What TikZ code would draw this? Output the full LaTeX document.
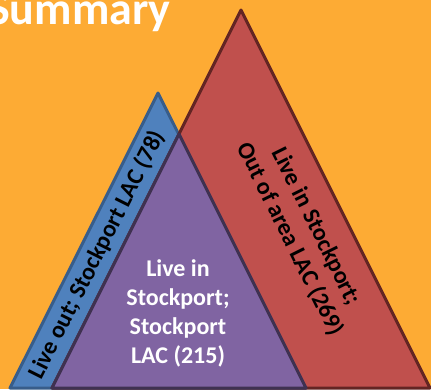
\documentclass[tikz,border=0pt]{standalone}
\usepackage{fontspec}
\setmainfont{Carlito}
\definecolor{bgorange}{HTML}{FDAB34}
\definecolor{bluefill}{HTML}{4F81BD}
\definecolor{blueline}{HTML}{385D8A}
\definecolor{redfill}{HTML}{C0504D}
\definecolor{redline}{HTML}{632523}
\definecolor{purplefill}{HTML}{8064A2}
\definecolor{purpleline}{HTML}{3F3151}
\tikzset{
  tri/.style={line width=3pt, line join=round},
  lbl/.style={font=\bfseries\fontsize{24}{29}\selectfont, align=center, inner sep=0pt},
}
\begin{document}
\begin{tikzpicture}[x=1pt,y=-1pt]
\useasboundingbox (0,0) rectangle (431,389);
\fill[bgorange] (0,0) rectangle (431,389);
% coordinates
\coordinate (bA) at (158,93);
\coordinate (bL) at (10,388);
\coordinate (bR) at (306,388);
\coordinate (rA) at (241,10);
\coordinate (rL) at (52,388);
\coordinate (rR) at (430,388);
\coordinate (pA) at (179,134);
% triangles
\draw[tri, fill=bluefill, draw=blueline] (bA) -- (bR) -- (bL) -- cycle;
\draw[tri, fill=redfill, draw=redline] (rA) -- (rR) -- (rL) -- cycle;
\draw[tri, fill=purplefill, draw=purpleline] (pA) -- (bR) -- (rL) -- cycle;
% texts
\node[anchor=base west, inner sep=0pt, text=white, font=\bfseries\fontsize{46}{50}\selectfont] (title) at (-12,24) {Summary};
\node[lbl, text=black, rotate=63.3] (bluetxt) at (97,255) {Live out; Stockport LAC (78)};
\node[lbl, text=black, rotate=-63.6] (redtxt) at (303,233) {Live in Stockport;\\Out of area LAC (269)};
\node[lbl, text=white] (purpletxt) at (178,313) {Live in\\Stockport;\\Stockport\\LAC (215)};
\end{tikzpicture}
\end{document}
